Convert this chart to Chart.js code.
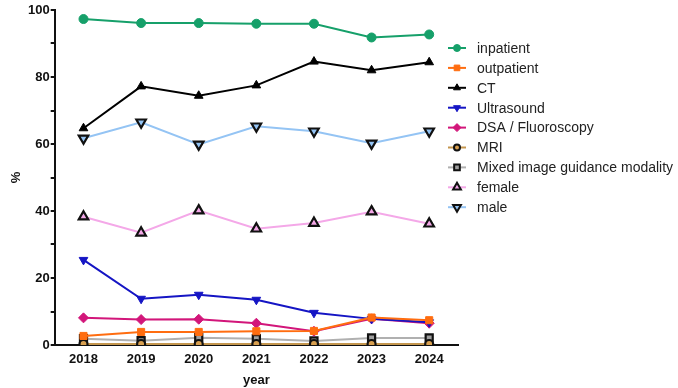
<!DOCTYPE html>
<html>
<head>
<meta charset="utf-8">
<script src="https://cdn.jsdelivr.net/npm/chart.js@4/dist/chart.umd.min.js"></script>
<style>
  html, body { margin: 0; padding: 0; background: #fff; }
  #wrap { width: 678px; height: 388px; position: relative; }
</style>
</head>
<body>
<div id="wrap"><canvas id="chart"></canvas></div>
<script>
// data
const years = ['2018', '2019', '2020', '2021', '2022', '2023', '2024'];
const inpatient = [97.3, 96.1, 96.1, 95.9, 95.9, 91.8, 92.7];
const outpatient = [2.7, 3.9, 3.9, 4.1, 4.2, 8.2, 7.4];
const ct = [64.7, 77.2, 74.4, 77.5, 84.6, 82.0, 84.4];
const ultrasound = [25.4, 13.8, 15.0, 13.5, 9.6, 7.8, 6.8];
const dsa = [8.1, 7.6, 7.7, 6.5, 4.1, 7.8, 6.5];
const mri = [0.3, 0.3, 0.3, 0.3, 0.3, 0.3, 0.3];
const mixed = [1.9, 1.3, 2.2, 1.9, 1.2, 2.1, 2.1];
const female = [38.3, 33.5, 40.1, 34.7, 36.4, 39.8, 36.2];
const male = [61.7, 66.5, 59.9, 65.3, 63.8, 60.2, 63.8];
const yTicks = [0, 20, 40, 60, 80, 100];

// label, values, line colour, marker fill, marker border, style, radius, rotation
const series = [
  ['inpatient', inpatient, '#16a06a', '#16a06a', '#16a06a', 'circle', 4.5, 0],
  ['outpatient', outpatient, '#ff6d10', '#ff6d10', '#ff6d10', 'rect', 5, 0],
  ['CT', ct, '#000000', '#000000', '#000000', 'triangle', 5, 0],
  ['Ultrasound', ultrasound, '#1515c4', '#1515c4', '#1515c4', 'triangle', 5, 180],
  ['DSA / Fluoroscopy', dsa, '#d2167a', '#d2167a', '#d2167a', 'rectRot', 5, 0],
  ['MRI', mri, '#c4964e', '#d9a050', '#111111', 'circle', 4, 0],
  ['Mixed image guidance modality', mixed, '#b0b0b0', '#a0a0a0', '#111111', 'rect', 5, 0],
  ['female', female, '#f4a8e8', '#f4a8e8', '#111111', 'triangle', 5.5, 0],
  ['male', male, '#94c4f4', '#94c4f4', '#111111', 'triangle', 5.5, 180]
];

const datasets = series.map((s, i) => ({
  label: s[0],
  data: s[1],
  borderColor: s[2],
  backgroundColor: s[3],
  pointBackgroundColor: s[3],
  pointBorderColor: s[4],
  pointBorderWidth: s[4] === '#111111' ? 2.2 : 1,
  pointStyle: s[5],
  pointRadius: s[6],
  pointRotation: s[7],
  borderWidth: 2,
  tension: 0,
  order: i
}));

// legend with line + marker, like the original plot
const sideLegend = {
  id: 'sideLegend',
  afterDraw(chart) {
    const ctx = chart.ctx;
    const x0 = 448, y0 = 48, step = 19.9;
    ctx.save();
    series.forEach((s, i) => {
      const y = y0 + i * step;
      ctx.strokeStyle = s[2];
      ctx.lineWidth = 2;
      ctx.beginPath();
      ctx.moveTo(x0, y);
      ctx.lineTo(x0 + 18, y);
      ctx.stroke();
      ctx.fillStyle = s[3];
      ctx.strokeStyle = s[4];
      ctx.lineWidth = s[4] === '#111111' ? 2 : 1;
      Chart.helpers.drawPoint(ctx, {
        pointStyle: s[5], radius: s[6] - 1, rotation: s[7], borderWidth: ctx.lineWidth
      }, x0 + 9, y);
      ctx.fillStyle = '#222';
      ctx.font = '14px "Liberation Sans", Arial, sans-serif';
      ctx.textBaseline = 'middle';
      ctx.textAlign = 'left';
      ctx.fillText(s[0], x0 + 29, y + 1);
    });
    ctx.restore();
  }
};

const tickFont = { family: '"Liberation Sans", Arial, sans-serif', size: 13, weight: 'bold', lineHeight: 1 };

new Chart(document.getElementById('chart'), {
  type: 'line',
  data: { labels: years, datasets },
  plugins: [sideLegend],
  options: {
    responsive: true,
    maintainAspectRatio: false,
    animation: false,
    layout: { padding: { top: 10, right: 220, left: 6, bottom: 1 } },
    plugins: {
      legend: { display: false },
      tooltip: { enabled: false }
    },
    scales: {
      x: {
        offset: true,
        grid: { display: false, drawTicks: false },
        border: { color: '#111', width: 2 },
        ticks: { color: '#111', font: tickFont, padding: 8, maxRotation: 0 },
        title: { display: true, text: 'year', color: '#111', font: tickFont, padding: { top: 0, bottom: 0 } }
      },
      y: {
        min: 0,
        max: 100,
        grid: { drawOnChartArea: false, drawTicks: true, tickLength: 4, color: '#111', lineWidth: 2 },
        border: { color: '#111', width: 2 },
        ticks: {
          stepSize: 10,
          color: '#111',
          font: tickFont,
          padding: 1,
          callback: (v) => (yTicks.includes(v) ? v : '')
        },
        title: { display: true, text: '%', color: '#111', font: tickFont, padding: { bottom: 4 } }
      }
    }
  }
});
</script>
</body>
</html>
